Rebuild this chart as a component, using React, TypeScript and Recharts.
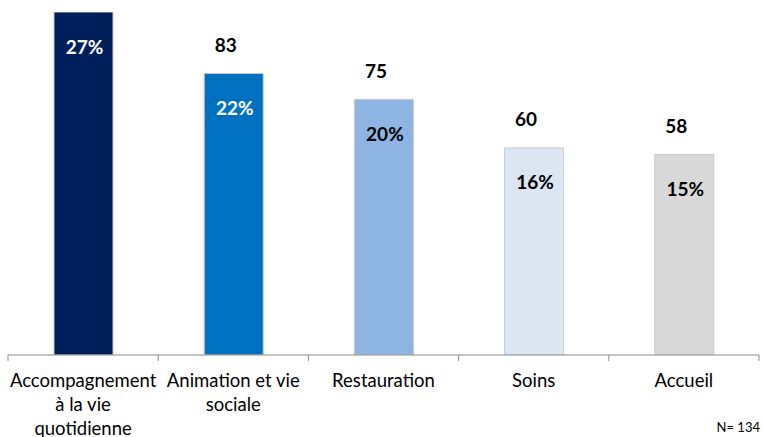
import { BarChart, Bar, XAxis, YAxis, Cell, LabelList } from 'recharts';

const CATEGORIES = ['Accompagnement à la vie quotidienne', 'Animation et vie sociale', 'Restauration', 'Soins', 'Accueil'];
const LABEL_LINES = [
  ['Accompagnement', 'à la vie', 'quotidienne'],
  ['Animation et vie', 'sociale'],
  ['Restauration'],
  ['Soins'],
  ['Accueil'],
];
const COUNTS = [102, 83, 75, 60, 58];
const PERCENTS = [27, 22, 20, 16, 15];
const BAR_COLORS = ['#001F5B', '#0070C0', '#8DB4E2', '#DCE6F2', '#D9D9D9'];
const PCT_COLORS = ['#FFFFFF', '#FFFFFF', '#000000', '#000000', '#000000'];
const AXIS_MIN = -4;
const AXIS_MAX = 102;

const FONT = 'Lato, "Open Sans", sans-serif';

const data = CATEGORIES.map((name, i) => ({
  name,
  count: COUNTS[i],
  pct: PERCENTS[i],
  range: [AXIS_MIN, COUNTS[i]],
}));

function CategoryTick(props: any) {
  const { x, y, payload, index } = props;
  const half = payload.offset || 75;
  const lines = LABEL_LINES[index] || [payload.value];
  return (
    <g>
      <line x1={x - half} y1={y - 8} x2={x - half} y2={y - 2} stroke="#8c8c8c" />
      {index === CATEGORIES.length - 1 && (
        <line x1={x + half} y1={y - 8} x2={x + half} y2={y - 2} stroke="#8c8c8c" />
      )}
      <text x={x} y={y + 24} textAnchor="middle" fontFamily={FONT} fontSize={18.5} fill="#000">
        {lines.map((l: string, i: number) => (
          <tspan key={i} x={x} dy={i === 0 ? 0 : 24}>{l}</tspan>
        ))}
      </text>
    </g>
  );
}

function CountLabel(props: any) {
  const { x, y, width, index } = props;
  const ly = y - 29;
  // the top bar's count sits above the visible area in the source, skip it
  if (ly < 10) return null;
  return (
    <text x={x + width / 2 - 8} y={ly} textAnchor="middle" dominantBaseline="central"
      fontFamily={FONT} fontWeight={700} fontSize={19} fill="#000">
      {COUNTS[index]}
    </text>
  );
}

function PctLabel(props: any) {
  const { x, y, width, index } = props;
  return (
    <text x={x + width / 2 + 1} y={y + 34} textAnchor="middle" dominantBaseline="central"
      fontFamily={FONT} fontWeight={700} fontSize={19} fill={PCT_COLORS[index]}>
      {PERCENTS[index]}%
    </text>
  );
}

export default function App() {
  return (
    <div style={{ position: 'fixed', left: 0, top: 0, width: 762, height: 437, background: '#fff', fontFamily: FONT }}>
      <BarChart width={762} height={437} data={data} margin={{ top: 12, right: 3, bottom: 0, left: 8 }}>
        <XAxis
          dataKey="name"
          axisLine={{ stroke: '#8c8c8c' }}
          tickLine={false}
          interval={0}
          height={82}
          tick={<CategoryTick />}
        />
        <YAxis hide domain={[AXIS_MIN, AXIS_MAX]} allowDataOverflow />
        <Bar dataKey="range" barSize={59} isAnimationActive={false} stroke="#c8c8c8" strokeWidth={1}>
          {data.map((_, i) => (
            <Cell key={`c-${i}`} fill={BAR_COLORS[i]} />
          ))}
          <LabelList dataKey="count" content={<CountLabel />} />
          <LabelList dataKey="pct" content={<PctLabel />} />
        </Bar>
      </BarChart>
      <div style={{ position: 'absolute', right: 2, top: 419, fontSize: 13, color: '#000', fontFamily: FONT, whiteSpace: 'nowrap' }}>
        N= 134
      </div>
    </div>
  );
}
